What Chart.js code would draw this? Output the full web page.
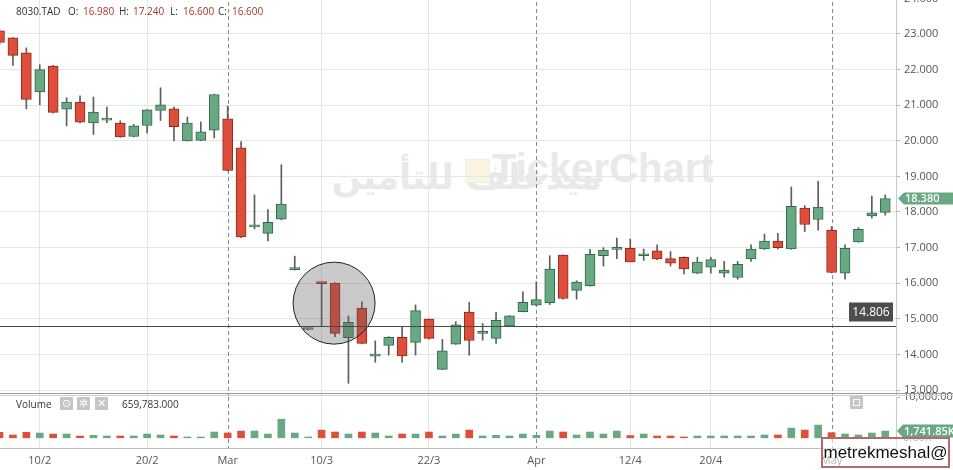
<!DOCTYPE html>
<html>
<head>
<meta charset="utf-8">
<title>8030.TAD</title>
<script src="https://cdn.jsdelivr.net/npm/chart.js@4.4.1/dist/chart.umd.min.js"></script>
<style>
  body { margin: 0; background: #fff; font-family: 'Open Sans', sans-serif; }
  #wrap { position: relative; width: 953px; height: 470px; overflow: hidden; }
  canvas { position: absolute; left: 0; }
  #priceChart { top: -12px; z-index: 1; }
  #volumeChart { top: 392px; z-index: 2; }
  .abs { position: absolute; white-space: nowrap; }
  .hdr { top: 4px; font-family: 'Open Sans', sans-serif; font-size: 10px; line-height: 14px; color: #333; z-index: 3; }
  .val { color: #a3372b; }
  .wm { color: #e9e9e9; font-weight: bold; z-index: 0; }
  .sep { left: 0; width: 953px; height: 1px; z-index: 3; }
  .ico { top: 397px; width: 13px; height: 13px; background: #c6c6c6; color: #fff; font-size: 11px; line-height: 13px; text-align: center; z-index: 3; font-family: 'DejaVu Sans', sans-serif; }
</style>
</head>
<body>
<div id="wrap">
  <!-- watermark -->
  <div class="abs wm" style="left:340px;top:152px;width:262px;text-align:right;direction:rtl;font-size:35px;line-height:50px;font-family:'DejaVu Sans',sans-serif;">ميدغلف للتأمين</div>
  <div class="abs" style="left:465px;top:159px;width:23px;height:22px;background:#faf5e1;border:1px solid #eee;z-index:0;"></div>
  <div class="abs wm" style="left:492px;top:148px;font-size:40px;line-height:40px;font-family:'Liberation Sans',Arial,sans-serif;">TickerChart</div>

  <canvas id="priceChart" width="953" height="408"></canvas>
  <canvas id="volumeChart" width="953" height="78"></canvas>

  <!-- header -->
  <span class="abs hdr" style="left:16px">8030.TAD</span>
  <span class="abs hdr" style="left:68px">O:</span><span class="abs hdr val" id="hO" style="left:83px"></span>
  <span class="abs hdr" style="left:119px">H:</span><span class="abs hdr val" id="hH" style="left:133px"></span>
  <span class="abs hdr" style="left:170px">L:</span><span class="abs hdr val" id="hL" style="left:183px"></span>
  <span class="abs hdr" style="left:218px">C:</span><span class="abs hdr val" id="hC" style="left:232px"></span>

  <!-- panel separator -->
  <div class="abs sep" style="top:393px;background:#9a9a9a"></div>
  <div class="abs sep" style="top:395px;background:#cfcfcf"></div>

  <!-- volume header -->
  <span class="abs hdr" style="left:16px;top:397px">Volume</span>
  <span class="abs ico" style="left:60px">⊙</span>
  <span class="abs ico" style="left:77px">✲</span>
  <span class="abs ico" style="left:95px">✕</span>
  <span class="abs hdr" id="hVol" style="left:122px;top:397px"></span>
  <div class="abs" style="left:850px;top:396px;width:13px;height:13px;background:#c6c6c6;z-index:3;"><div style="margin:3px;width:5px;height:5px;border:1px solid #fff;"></div></div>

  <!-- user tag -->
  <div class="abs" style="left:821px;top:437px;width:125px;height:27px;border:2px solid #b36a6a;background:rgba(255,255,255,0.55);z-index:4;font-family:'Liberation Sans',Arial,sans-serif;font-size:17px;line-height:27px;color:#111;text-align:center;">metrekmeshal@</div>
</div>

<script>
// daily candles, oldest first (index 0 is the partly hidden first day)
const opens  = [23.09, 22.89, 22.47, 21.37, 22.10, 20.89, 21.09, 20.50, 20.58, 20.50,
                20.12, 20.43, 20.85, 20.90, 20.00, 20.01, 20.30, 20.62, 19.80, 17.58,
                17.40, 17.80, 16.38, 14.70, 16.00, 16.00, 14.47, 15.30, 13.95, 14.25,
                14.48, 14.34, 14.99, 13.58, 14.29, 15.19, 14.59, 14.45, 14.80, 15.20,
                15.38, 15.45, 16.79, 15.80, 15.93, 16.77, 16.95, 16.98, 16.77, 16.91,
                16.69, 16.73, 16.28, 16.45, 16.28, 16.16, 16.68, 16.96, 17.18, 16.96,
                18.11, 17.79, 17.49, 16.28, 17.16, 17.89, 17.99];
const highs  = [23.12, 22.90, 22.61, 22.14, 22.12, 21.21, 21.26, 21.23, 20.95, 20.56,
                20.46, 20.88, 21.49, 20.95, 20.67, 20.53, 21.31, 20.98, 19.98, 18.48,
                18.07, 19.33, 16.76, 14.72, 16.00, 16.01, 15.08, 15.48, 14.38, 14.50,
                14.76, 15.39, 15.00, 14.42, 14.92, 15.46, 14.87, 15.18, 15.09, 15.76,
                16.04, 16.77, 16.80, 16.07, 16.95, 17.00, 17.27, 17.24, 16.96, 17.08,
                16.89, 16.74, 16.73, 16.73, 16.61, 16.61, 17.08, 17.38, 17.40, 18.70,
                18.18, 18.86, 17.59, 17.08, 17.56, 18.45, 18.48];
const lows   = [22.70, 22.12, 20.90, 21.01, 20.78, 20.42, 20.50, 20.18, 20.51, 20.10,
                20.11, 20.22, 20.57, 20.00, 19.99, 20.00, 20.08, 19.15, 17.28, 17.52,
                17.19, 17.78, 16.37, 14.69, 14.78, 14.50, 13.19, 14.30, 13.78, 13.98,
                13.78, 13.98, 14.43, 13.57, 14.28, 13.98, 14.40, 14.31, 14.79, 15.19,
                15.37, 15.40, 15.55, 15.55, 15.92, 16.48, 16.69, 16.60, 16.64, 16.66,
                16.48, 16.26, 16.27, 16.28, 16.17, 16.11, 16.61, 16.95, 16.96, 16.95,
                17.45, 17.49, 16.29, 16.11, 17.15, 17.83, 17.91];
const closes = [22.76, 22.40, 21.16, 22.00, 20.80, 21.09, 20.52, 20.81, 20.61, 20.11,
                20.42, 20.87, 21.01, 20.40, 20.50, 20.25, 21.30, 19.17, 17.30, 17.60,
                17.71, 18.22, 16.40, 14.72, 15.99, 14.59, 14.90, 14.31, 13.97, 14.48,
                13.96, 15.23, 14.45, 14.10, 14.83, 14.39, 14.61, 14.96, 15.08, 15.46,
                15.54, 16.40, 15.57, 16.03, 16.81, 16.93, 17.00, 16.60, 16.79, 16.68,
                16.56, 16.40, 16.59, 16.66, 16.37, 16.53, 16.96, 17.18, 17.00, 18.16,
                17.65, 18.14, 16.30, 16.98, 17.51, 17.98, 18.38];
// volume in thousands of shares
const volumes = [1440, 800, 1440, 1280, 1040, 1040, 560, 720, 560, 560,
                 560, 1040, 800, 560, 320, 320, 1520, 1280, 1750, 1750,
                 1040, 4630, 1280, 320, 1990, 1520, 1040, 1520, 1280, 560,
                 1040, 1040, 1520, 560, 1040, 1990, 560, 720, 560, 1040,
                 720, 1750, 1520, 800, 1520, 1040, 1750, 659.783, 1040, 560,
                 560, 320, 560, 560, 560, 560, 560, 800, 800, 2470,
                 1990, 3190, 1370, 1040, 800, 1280, 1741.85];

const tickPos    = [3, 11, 17, 24, 32, 40, 47, 53, 62];
const tickLabels = ['10/2', '20/2', 'Mar', '10/3', '22/3', 'Apr', '12/4', '20/4', 'May'];
const monthLabels = ['Mar', 'Apr', 'May'];
const priceTicks = [13, 14, 15, 16, 17, 18, 19, 20, 21, 22, 23, 24];
const volumeTicks = [0, 10000];

const refLevel = 14.806;         // horizontal line
const circleAt = [24.93, 15.44]; // highlighted area (day index, price)
const hoverIdx = 47;             // day shown in the header

const UP = '#68a882', UP_EDGE = '#2f6b48', DOWN = '#de4f3b', DOWN_EDGE = '#8e2a1c';
const AXIS_W = 57;
const xMin = 0.037, xMax = 66.8;

const isUp = i => closes[i] >= opens[i];
const last = closes.length - 1;

Chart.defaults.font.family = "'Open Sans', sans-serif";
Chart.defaults.font.size = 11;
Chart.defaults.color = '#555';

function noPad(s) {
    s.paddingTop = 0; s.paddingBottom = 0; s.paddingLeft = 0; s.paddingRight = 0;
}

function xAxis(withLabels) {
    return {
        type: 'linear',
        offset: false,
        min: xMin,
        max: xMax,
        afterBuildTicks: s => { s.ticks = tickPos.map(v => ({ value: v })); },
        afterFit: s => { s.height = withLabels ? 22 : 0; noPad(s); },
        grid: {
            offset: false,
            drawTicks: false,
            color: c => (c.tick && monthLabels.includes(tickLabels[tickPos.indexOf(c.tick.value)])) ? 'rgba(0,0,0,0)' : '#e4e4e4'
        },
        border: { display: withLabels, color: '#bdbdbd' },
        ticks: {
            display: withLabels,
            autoSkip: false,
            maxRotation: 0,
            padding: 6,
            color: '#555',
            callback: v => tickLabels[tickPos.indexOf(v)]
        }
    };
}

// dashed separators at the start of each month
const monthLines = {
    id: 'monthLines',
    beforeDatasetsDraw(chart) {
        const { ctx, chartArea, scales: { x } } = chart;
        ctx.save();
        ctx.strokeStyle = '#8a8a8a';
        ctx.lineWidth = 1;
        ctx.setLineDash([4, 3]);
        tickPos.forEach((v, k) => {
            if (!monthLabels.includes(tickLabels[k])) return;
            const px = Math.round(x.getPixelForValue(v)) + 0.5;
            ctx.beginPath();
            ctx.moveTo(px, chartArea.top);
            ctx.lineTo(px, chartArea.bottom);
            ctx.stroke();
        });
        ctx.restore();
    }
};

function arrowLabel(ctx, left, cy, text, h) {
    const w = 953 - left;
    ctx.fillStyle = UP;
    ctx.beginPath();
    ctx.moveTo(left, cy);
    ctx.lineTo(left + 6, cy - h / 2);
    ctx.lineTo(left + w, cy - h / 2);
    ctx.lineTo(left + w, cy + h / 2);
    ctx.lineTo(left + 6, cy + h / 2);
    ctx.closePath();
    ctx.fill();
    ctx.fillStyle = '#fff';
    ctx.font = "600 11px 'Open Sans', sans-serif";
    ctx.textBaseline = 'middle';
    ctx.textAlign = 'left';
    ctx.fillText(text, left + 7, cy + 0.5);
}

const priceOverlay = {
    id: 'priceOverlay',
    afterDatasetsDraw(chart) {
        const { ctx, chartArea, scales: { x, y } } = chart;
        ctx.save();
        // highlight circle
        ctx.beginPath();
        ctx.arc(x.getPixelForValue(circleAt[0]), y.getPixelForValue(circleAt[1]), 41, 0, Math.PI * 2);
        ctx.fillStyle = 'rgba(90,90,90,0.32)';
        ctx.fill();
        ctx.strokeStyle = '#222';
        ctx.lineWidth = 1;
        ctx.stroke();

        // reference line and its label
        const ly = Math.round(y.getPixelForValue(refLevel)) + 0.5;
        ctx.strokeStyle = '#4a4a4a';
        ctx.beginPath();
        ctx.moveTo(chartArea.left, ly);
        ctx.lineTo(chartArea.right, ly);
        ctx.stroke();
        ctx.fillStyle = '#4d4d4d';
        ctx.fillRect(chartArea.right - 47, ly - 24, 44, 19);
        ctx.fillStyle = '#fff';
        ctx.font = "12px 'Open Sans', sans-serif";
        ctx.textAlign = 'center';
        ctx.textBaseline = 'middle';
        ctx.fillText(refLevel.toFixed(3), chartArea.right - 25, ly - 14);

        // last price tag
        arrowLabel(ctx, chartArea.right + 2, y.getPixelForValue(closes[last]), closes[last].toFixed(3), 12);
        ctx.restore();
    }
};

const volumeOverlay = {
    id: 'volumeOverlay',
    afterDraw(chart) {
        const { ctx, chartArea, scales: { y } } = chart;
        ctx.save();
        const txt = volumes[last].toLocaleString('en-US', { minimumFractionDigits: 2 }) + 'K';
        arrowLabel(ctx, chartArea.right + 1, y.getPixelForValue(volumes[last]), txt, 13);
        ctx.restore();
    }
};

// header values
document.getElementById('hO').textContent = opens[hoverIdx].toFixed(3);
document.getElementById('hH').textContent = highs[hoverIdx].toFixed(3);
document.getElementById('hL').textContent = lows[hoverIdx].toFixed(3);
document.getElementById('hC').textContent = closes[hoverIdx].toFixed(3);
document.getElementById('hVol').textContent = (volumes[hoverIdx] * 1000).toLocaleString('en-US', { minimumFractionDigits: 3 });

// Render price chart
new Chart(document.getElementById('priceChart').getContext('2d'), {
    type: 'bar',
    data: {
        datasets: [{
            // bodies
            data: opens.map((o, i) => ({ x: i, y: [o, closes[i]] })),
            backgroundColor: opens.map((o, i) => isUp(i) ? UP : DOWN),
            borderColor: opens.map((o, i) => isUp(i) ? UP_EDGE : DOWN_EDGE),
            borderWidth: 1,
            borderSkipped: false,
            minBarLength: 2,
            barThickness: 10,
            grouped: false
        }, {
            // wicks
            data: lows.map((l, i) => ({ x: i, y: [l, highs[i]] })),
            backgroundColor: '#5e5e5e',
            borderWidth: 0,
            barThickness: 1,
            grouped: false
        }]
    },
    options: {
        responsive: false,
        animation: false,
        layout: { padding: 0 },
        plugins: { legend: { display: false }, tooltip: { enabled: false } },
        scales: {
            x: xAxis(false),
            y: {
                type: 'linear',
                position: 'right',
                min: 12.8315,
                max: 24.292,
                afterBuildTicks: s => { s.ticks = priceTicks.map(v => ({ value: v })); },
                afterFit: s => { s.width = AXIS_W; noPad(s); },
                grid: { color: '#e6e6e6', tickColor: '#b5b5b5', tickLength: 4 },
                border: { display: true, color: '#c8c8c8' },
                ticks: { padding: 4, color: '#555', callback: v => v.toFixed(3) }
            }
        }
    },
    plugins: [monthLines, priceOverlay]
});

// Render volume chart
new Chart(document.getElementById('volumeChart').getContext('2d'), {
    type: 'bar',
    data: {
        datasets: [{
            data: volumes.map((v, i) => ({ x: i, y: v })),
            backgroundColor: volumes.map((v, i) => isUp(i) ? UP : DOWN),
            borderWidth: 0,
            barThickness: 7,
            grouped: false
        }]
    },
    options: {
        responsive: false,
        animation: false,
        layout: { padding: { top: 5, left: 0, right: 0, bottom: 0 } },
        plugins: { legend: { display: false }, tooltip: { enabled: false } },
        scales: {
            x: xAxis(true),
            y: {
                type: 'linear',
                position: 'right',
                min: -2350,
                max: 10000,
                afterBuildTicks: s => { s.ticks = volumeTicks.map(v => ({ value: v })); },
                afterFit: s => { s.width = AXIS_W; noPad(s); },
                grid: { drawOnChartArea: false, tickColor: '#b5b5b5', tickLength: 4 },
                border: { display: true, color: '#c8c8c8' },
                ticks: { padding: 3, color: '#555', callback: v => v.toLocaleString('en-US', { minimumFractionDigits: 2 }) + 'K' }
            }
        }
    },
    plugins: [monthLines, volumeOverlay]
});
</script>
</body>
</html>
